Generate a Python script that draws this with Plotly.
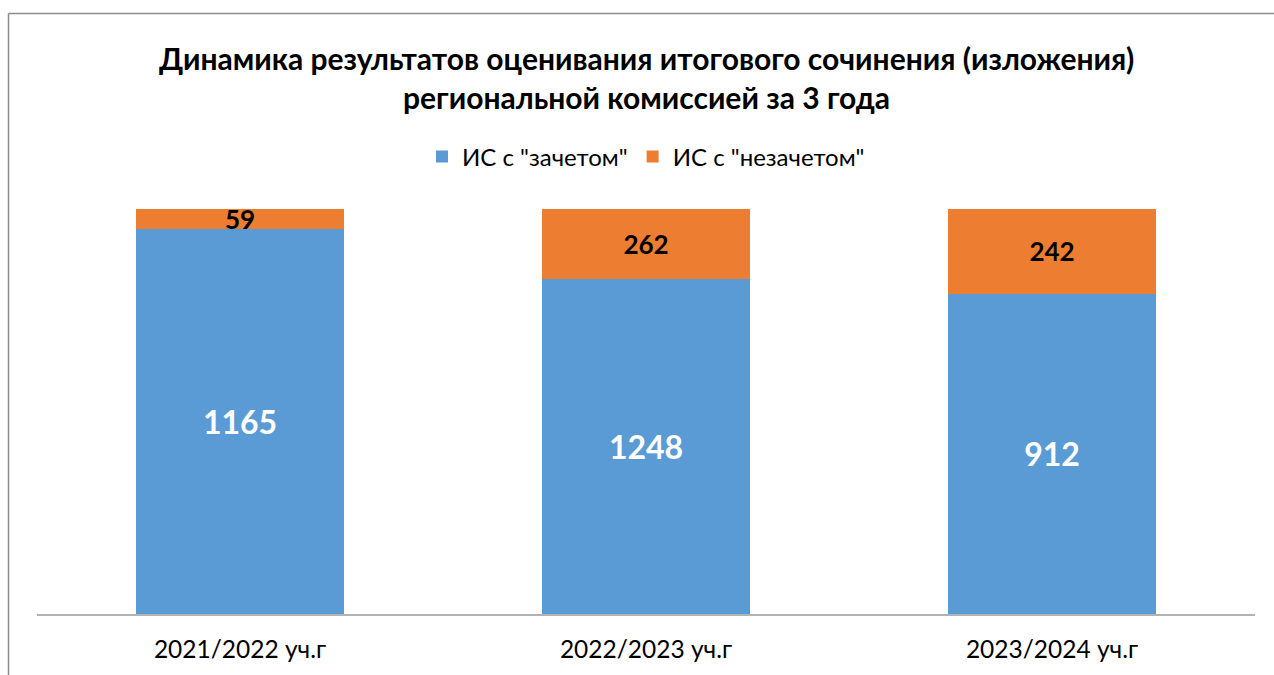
import plotly.graph_objects as go

categories = ["2021/2022 уч.г", "2022/2023 уч.г", "2023/2024 уч.г"]
passed = [1165, 1248, 912]
failed = [59, 262, 242]
series_names = ['ИС с "зачетом"', 'ИС с "незачетом"']
title_lines = ["Динамика результатов оценивания итогового сочинения (изложения)",
               "региональной комиссией за 3 года"]

FONT = "Lato"
W, H = 1274, 675
L, R, T, B = 37, 19, 209, 61
pw, ph = W - L - R, H - T - B

def px_x(x):
    return (x - L) / pw

def px_y(y):
    return (H - B - y) / ph

fig = go.Figure()
fig.add_trace(go.Bar(
    x=categories, y=passed, name=series_names[0],
    marker=dict(color="#5B9BD5", line=dict(width=0)),
    text=[str(v) for v in passed], textposition="inside", insidetextanchor="middle",
    constraintext="none", textangle=0,
    textfont=dict(family=FONT, size=32, color="white", weight="bold"),
))
fig.add_trace(go.Bar(
    x=categories, y=failed, name=series_names[1],
    marker=dict(color="#ED7D31", line=dict(width=0)),
    text=[str(v) for v in failed], textposition="inside", insidetextanchor="middle",
    constraintext="none", textangle=0,
    textfont=dict(family=FONT, size=26, color="black", weight="bold"),
))

fig.update_layout(
    width=W, height=H,
    margin=dict(l=L, r=R, t=T, b=B),
    barmode="stack", barnorm="percent", bargap=0.488,
    paper_bgcolor="white", plot_bgcolor="white",
    font=dict(family=FONT, size=24, color="black"),
    showlegend=True,
    legend=dict(orientation="h", x=0.5, xanchor="center", y=px_y(157), yanchor="middle",
                font=dict(family=FONT, size=24, color="black"), itemwidth=30,
                traceorder="normal"),
    xaxis=dict(showline=True, linecolor="#B3B3B3", linewidth=2, ticks="",
               tickfont=dict(family=FONT, size=24.5, color="black"), range=[-0.5, 2.5],
               showgrid=False, ticklabelstandoff=13),
    yaxis=dict(visible=False, range=[0, 100], showgrid=False),
)

for i, line in enumerate(title_lines):
    fig.add_annotation(
        text=line, xref="paper", yref="paper", x=0.5, y=px_y([58, 97][i]),
        xanchor="center", yanchor="middle", showarrow=False,
        font=dict(family=FONT, size=30, color="black", weight="bold"),
    )

# chart border (top and left edges visible)
fig.add_shape(type="line", xref="paper", yref="paper",
              x0=px_x(8.5), x1=px_x(W + 5), y0=px_y(13.5), y1=px_y(13.5),
              line=dict(color="#8C8C8C", width=1.5))
fig.add_shape(type="line", xref="paper", yref="paper",
              x0=px_x(8.5), x1=px_x(8.5), y0=px_y(13.5), y1=px_y(H + 5),
              line=dict(color="#8C8C8C", width=1.5))

fig.write_html("out.html")
